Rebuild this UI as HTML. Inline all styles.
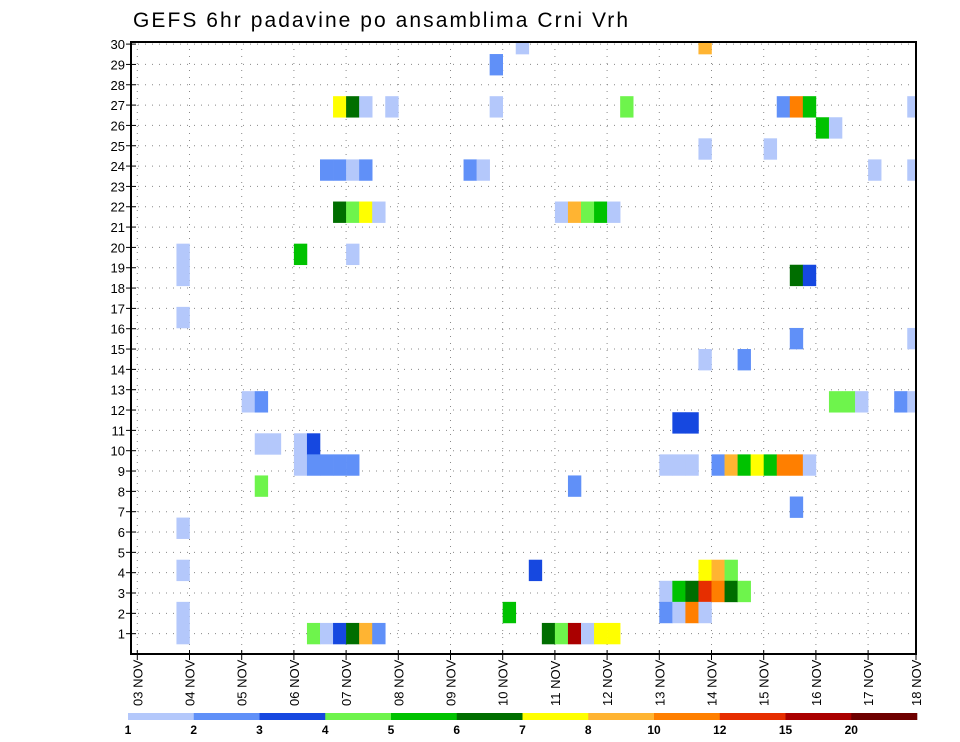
<!DOCTYPE html>
<html><head><meta charset="utf-8"><style>
html,body{margin:0;padding:0;background:#fff;}
svg{display:block;font-family:"Liberation Sans",sans-serif;}
</style></head><body>
<svg id="chart" width="960" height="742" viewBox="0 0 960 742" xmlns="http://www.w3.org/2000/svg">
<text x="133" y="27" font-size="21" fill="#000" textLength="495" lengthAdjust="spacing">GEFS 6hr padavine po ansamblima Crni Vrh</text>
<g id="grid"></g>
<g id="cells"></g>
<g id="axes"></g>
<g id="cbar"></g>
</svg>
<script>
// x axis: time in 6-hour steps since 03 NOV 00Z (cell ends at this step)
const dayLabels = ["03","04","05","06","07","08","09","10","11","12","13","14","15","16","17","18"];
const yTicks = [1,2,3,4,5,6,7,8,9,10,11,12,13,14,15,16,17,18,19,20,21,22,23,24,25,26,27,28,29,30];
const levels = [1,2,3,4,5,6,7,8,10,12,15,20];
const levelColors = ["#b4c8fb","#6090f8","#1648e0","#6ef44c","#00c200","#006e00","#ffff00","#ffb432","#ff7f00","#e62e00","#aa0000","#6e0000"];
// cells: time step, member index, value (mm)
const cellTime   = [30,28,16,17,18,20,28,15,16,17,18,26,27,16,17,18,19,13,17,4,4,4,
                    9,10,10,11,13,13,14,14,15,16,17,10,14,15,16,17,18,19,29,4,4,4,4,
                    31,32,33,34,35,36,37,34,44,47,51,60,54,55,56,59,60,42,43,41,42,43,
                    45,46,47,48,49,50,51,52,51,44,45,46,41,42,43,44,45,46,47,41,42,43,44,
                    44,38,50,51,52,53,54,44,49,57,60,60,33,34,35,36,37,51,52];
const cellMember = [29,28,26,26,26,26,26,23,23,23,23,23,23,21,21,21,21,19,19,19,18,16,
                    12,12,10,10,10,9,10,9,9,9,9,8,1,1,1,1,1,1,2,6,4,2,1,
                    4,1,1,1,1,1,1,8,14,14,15,15,12,12,12,12,12,11,11,9,9,9,
                    9,9,9,9,9,9,9,9,7,4,4,4,3,3,3,3,3,3,3,2,2,2,2,
                    29,26,26,26,26,25,25,24,24,23,23,26,21,21,21,21,21,18,18];
const cellValue  = [1.5,2.5,7.5,6.5,1.5,1.5,1.5,2.5,2.5,1.5,2.5,2.5,1.5,6.5,4.5,7.5,1.5,5.5,1.5,1.5,1.5,1.5,
                    1.5,2.5,1.5,1.5,1.5,1.5,3.5,2.5,2.5,2.5,2.5,4.5,4.5,1.5,3.5,6.5,9,2.5,5.5,1.5,1.5,1.5,1.5,
                    3.5,6.5,4.5,17,1.5,7.5,7.5,2.5,1.5,2.5,2.5,1.5,4.5,4.5,1.5,2.5,1.5,3.5,3.5,1.5,1.5,1.5,
                    2.5,9,5.5,7.5,5.5,11,11,1.5,2.5,7.5,9,4.5,1.5,5.5,6.5,13,11,6.5,4.5,2.5,1.5,11,1.5,
                    9,4.5,2.5,11,5.5,5.5,1.5,1.5,1.5,1.5,1.5,1.5,1.5,9,4.5,5.5,1.5,6.5,3.5];

const NS="http://www.w3.org/2000/svg";
const L=131, R=916, T=42, B=654;
const dayW=52.2, x0=137.3, stepW=dayW/4;
function xStep(k){return x0+k*stepW;}
function xDay(d){return x0+d*dayW;}
function yTick(v){return B-20.33*v;}
const cellH=21.07, cellBase=644;
function yCellTop(n){return cellBase-n*cellH;}
function colorFor(v){let i=0;for(let j=0;j<levels.length;j++){if(v>=levels[j])i=j;}return levelColors[i];}
function mk(tag,attrs,parent){const e=document.createElementNS(NS,tag);for(const a in attrs)e.setAttribute(a,attrs[a]);parent.appendChild(e);return e;}

const grid=document.getElementById('grid');
yTicks.forEach(v=>{const y=yTick(v);
  const l=mk('line',{x1:L,x2:R,y1:y,y2:y,stroke:'#888','stroke-width':1,'stroke-dasharray':'1 6'},grid);
  
  
});
dayLabels.forEach((d,i)=>{const x=xDay(i); if(x>R||x<L)return;
  const l=mk('line',{x1:x,x2:x,y1:T,y2:B,stroke:'#888','stroke-width':1,'stroke-dasharray':'1 6'},grid);
  
  
});

const cells=document.getElementById('cells');
const clip=mk('clipPath',{id:'pclip'},document.getElementById('chart'));
mk('rect',{x:L,y:T,width:R-L,height:B-T},clip);
cells.setAttribute('clip-path','url(#pclip)');
for(let i=0;i<cellTime.length;i++){
  const x=xStep(cellTime[i]-1), y=yCellTop(cellMember[i]);
  const r=mk('rect',{x:x,y:y,width:stepW+0.3,height:cellH+0.3,fill:colorFor(cellValue[i])},cells);
  
  
}

const ax=document.getElementById('axes');
const frame=mk('rect',{x:L,y:T,width:R-L,height:B-T,fill:'none',stroke:'#000','stroke-width':2},ax);


yTicks.forEach(v=>{const y=yTick(v);
  mk('line',{x1:L-5,x2:L+5,y1:y,y2:y,stroke:'#000','stroke-width':1},ax);
  const t=mk('text',{x:L-6,y:y+5,'font-size':13,'text-anchor':'end',fill:'#000'},ax);
  t.textContent=v;
  
  
});
dayLabels.forEach((d,i)=>{let x=xDay(i); if(x>R+4)x=R;
  mk('line',{x1:x,x2:x,y1:B-4,y2:B+6,stroke:'#000','stroke-width':1},ax);
  const t=mk('text',{x:0,y:0,'font-size':13,fill:'#000',transform:`translate(${x+5},706) rotate(-90)`},ax);
  t.textContent=d+' NOV';
  
  
});

const cb=document.getElementById('cbar');
const cbL=128, cbR=917, segW=(cbR-cbL)/levels.length;
levelColors.forEach((c,i)=>{
  const r=mk('rect',{x:cbL+i*segW,y:713,width:segW+0.3,height:7,fill:c},cb);
  
  
});
levels.forEach((v,i)=>{
  const t=mk('text',{x:cbL+i*segW,y:734,'font-size':12,'font-weight':'bold','text-anchor':'middle',fill:'#000'},cb);
  t.textContent=v;
  
  
});
</script>
</body></html>
